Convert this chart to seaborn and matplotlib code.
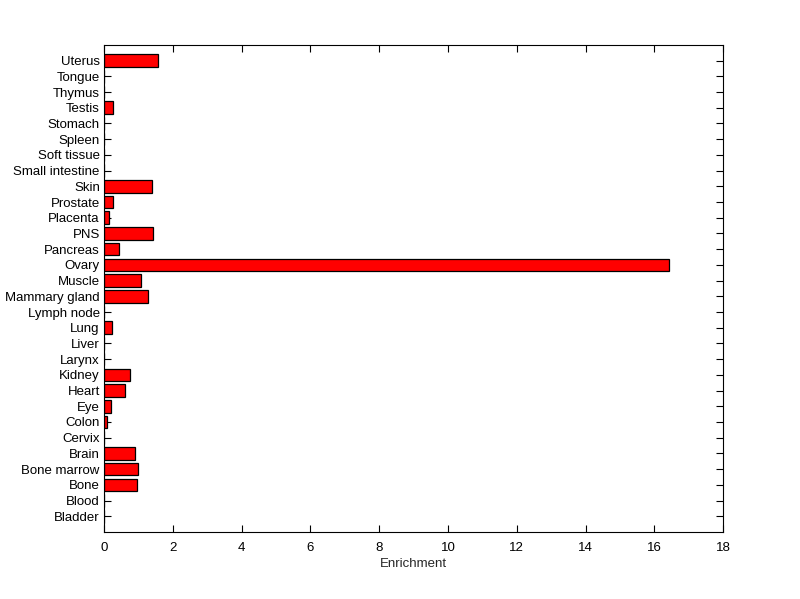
import matplotlib
matplotlib.use("Agg")
import matplotlib.pyplot as plt
import seaborn as sns
import pandas as pd

tissues = ["Uterus", "Tongue", "Thymus", "Testis", "Stomach", "Spleen", "Soft tissue",
           "Small intestine", "Skin", "Prostate", "Placenta", "PNS", "Pancreas", "Ovary",
           "Muscle", "Mammary gland", "Lymph node", "Lung", "Liver", "Larynx", "Kidney",
           "Heart", "Eye", "Colon", "Cervix", "Brain", "Bone marrow", "Bone", "Blood",
           "Bladder"]
enrichment = [1.57, 0, 0, 0.26, 0, 0, 0,
              0, 1.40, 0.26, 0.145, 1.42, 0.44, 16.42,
              1.08, 1.28, 0, 0.23, 0, 0, 0.76,
              0.61, 0.20, 0.087, 0, 0.90, 0.99, 0.96, 0,
              0]
x_ticks = [0, 2, 4, 6, 8, 10, 12, 14, 16, 18]

sns.set_style("ticks")
plt.rcParams["font.family"] = ["Liberation Sans", "DejaVu Sans"]

df = pd.DataFrame({"Tissue": tissues, "Enrichment": enrichment})

fig = plt.figure(figsize=(8, 5.99), dpi=100)
ax = fig.add_axes([0.13, 0.1119, 0.774, 0.8131])
sns.barplot(data=df, x="Enrichment", y="Tissue", order=tissues, orient="h",
            color="#ff0000", saturation=1, edgecolor="black", linewidth=0.9,
            width=0.8, ax=ax)

ax.set_xlim(0, 18)
ax.set_ylim(len(tissues), -1)
ax.set_xticks(x_ticks)
ax.set_xticklabels([str(t) for t in x_ticks])
ax.set_xlabel("Enrichment", fontsize=9.5, labelpad=3)
ax.set_ylabel("")
ax.tick_params(axis="both", direction="in", length=5, width=0.8, labelsize=9.5,
               top=True, right=True, colors="black")
ax.tick_params(axis="x", pad=7)
ax.tick_params(axis="y", pad=3)
for s in ax.spines.values():
    s.set_visible(True)
    s.set_linewidth(0.8)
    s.set_color("black")
ax.grid(False)
fig.savefig("out.png", dpi=100)
